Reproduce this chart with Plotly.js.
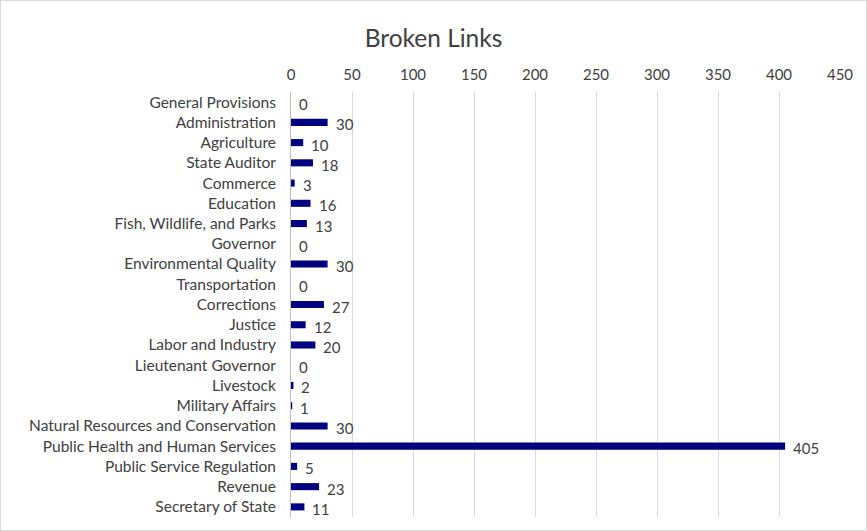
<!DOCTYPE html>
<html><head><meta charset="utf-8">
<script src="https://cdn.plot.ly/plotly-3.0.1.min.js"></script>
<style>html,body{margin:0;padding:0;background:#fff}#c{width:867px;height:531px;box-sizing:border-box;border:1px solid #d9d9d9}</style>
</head><body><div id="c"></div>
<script>
const categories = ["General Provisions","Administration","Agriculture","State Auditor","Commerce","Education","Fish, Wildlife, and Parks","Governor","Environmental Quality","Transportation","Corrections","Justice","Labor and Industry","Lieutenant Governor","Livestock","Military Affairs","Natural Resources and Conservation","Public Health and Human Services","Public Service Regulation","Revenue","Secretary of State"];
const brokenLinks = [0,30,10,18,3,16,13,0,30,0,27,12,20,0,2,1,30,405,5,23,11];
const xTicks = [0,50,100,150,200,250,300,350,400,450];

const bars = {
  type:'bar', orientation:'h', x:brokenLinks, y:categories,
  marker:{color:'#000080'}, hoverinfo:'x+y'
};
const annotations = brokenLinks.map((v,i)=>({
  x:v, y:categories[i], xref:'x', yref:'y', text:String(v), showarrow:false,
  xanchor:'left', yanchor:'middle', xshift:6, yshift:-2,
  font:{family:'Lato, sans-serif', size:15, color:'#404040'}
}));
const layout = {
  width:865, height:529,
  margin:{l:290, r:26, t:91, b:13},
  paper_bgcolor:'#fff', plot_bgcolor:'#fff',
  font:{family:'Lato, sans-serif', color:'#404040'},
  title:{text:'Broken Links', font:{family:'Lato, sans-serif', size:24.5, color:'#404040'}, x:0.5, xanchor:'center', y:0.93, yanchor:'middle'},
  bargap:0.65,
  showlegend:false,
  annotations:annotations,
  xaxis:{side:'top', range:[0,450], tickvals:xTicks, ticktext:xTicks.map(String),
    showgrid:true, gridcolor:'#d9d9d9', gridwidth:1, zeroline:false, showline:false,
    tickfont:{size:15, color:'#404040'}, ticks:'', ticklabelstandoff:8},
  yaxis:{range:[categories.length-0.5,-0.5], showline:true, linecolor:'#bfbfbf', linewidth:1,
    tickfont:{size:15.5, color:'#404040'}, ticks:'', ticklabelstandoff:11, showgrid:false}
};
Plotly.newPlot('c',[bars],layout,{displayModeBar:false, staticPlot:true});
</script></body></html>
